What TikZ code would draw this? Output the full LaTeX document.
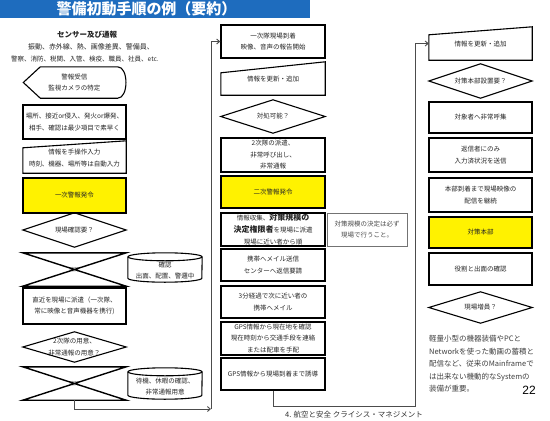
\documentclass[tikz,border=0pt]{standalone}
\usepackage{fontspec}
\newfontfamily\cjk{Noto Sans CJK JP}
\newfontfamily\lsans{Liberation Sans}
\usetikzlibrary{arrows.meta}
\definecolor{titleblue}{RGB}{30,108,190}
\begin{document}
\begin{tikzpicture}[x=1pt,y=-1pt,
  txt/.style={font=\cjk\fontsize{6.5}{11.5}\selectfont, align=center, text=black!85},
  frame/.style={rectangle, txt, inner sep=0pt, minimum width=103pt},
  pbox/.style={frame, draw, line width=1.4pt},
  ybox/.style={pbox, fill=yellow},
  shp/.style={frame},
  outl/.style={line width=1.1pt},
  thk/.style={line width=1.4pt},
  conn/.style={line width=0.9pt, draw=black!70},
  arr/.style={conn, -{Straight Barb[length=3pt,width=5pt]}}
]
\useasboundingbox (0,0) rectangle (550,421);
\fill[white] (0,0) rectangle (550,421);

% title
\fill[titleblue] (0,0) rectangle (310,18);
\node[font=\cjk\bfseries\fontsize{15}{15}\selectfont, text=white, inner sep=0] (title) at (146.5,9) {警備初動手順の例（要約）};

% header texts
\node[font=\cjk\bfseries\fontsize{7.5}{8}\selectfont, text=black!85] (hd1) at (87,35) {センサー及び通報};
\node[txt, font=\cjk\fontsize{7}{8}\selectfont] (hd2) at (91,47) {振動、赤外線、熱、画像差異、警備員、};
\node[txt, font=\cjk\fontsize{6.5}{8}\selectfont] (hd3) at (85,59) {警察、消防、税関、入管、検疫、職員、社員、etc.};

% ---------- left column ----------
\node[shp, minimum width=102pt, minimum height=31pt] (disp) at (74.5,82.5) {警報受信\\監視カメラの特定};
\draw[outl] (disp.west) -- ([xshift=17pt]disp.north west) -- ([xshift=-8pt]disp.north east)
  .. controls ([xshift=3pt]disp.north east) and ([xshift=3pt]disp.south east) .. ([xshift=-8pt]disp.south east)
  -- ([xshift=17pt]disp.south west) -- cycle;

\node[pbox, minimum height=34pt] (b1) at (74.5,122) {場所、接近or侵入、発火or爆発、\\相手、確認は最少項目で素早く};

\node[shp, minimum height=32pt] (mi1) at (74.5,157) {\\[-4pt]情報を手操作入力\\時刻、機器、場所等は自動入力};
\draw[outl] (mi1.south west) -- ([yshift=-7pt]mi1.north west) -- (mi1.north east) -- (mi1.south east) -- cycle;

\node[ybox, minimum height=35pt] (y1) at (74.5,195.5) {一次警報発令};

\node[shp, minimum height=34pt] (d1) at (74.5,230) {現場確認要？};
\draw[outl] (d1.west) -- (d1.north) -- (d1.east) -- (d1.south) -- cycle;

\node[shp, minimum height=33pt, font=\cjk\fontsize{5}{6}\selectfont, text=black!60] (x1) at (74.5,269.5) {確認};
\draw[thk] (x1.north west) -- (x1.north east) -- (x1.south west) -- (x1.south east) -- cycle;

\node[shp, minimum width=74pt, minimum height=29pt] (cy1) at (165,267.5) {};
\node[txt, inner sep=0pt] (cy1t) at ([yshift=-3pt]cy1.center) {確認\\出面、配置、警邏中};
\draw[outl] ([yshift=-4pt]cy1.north) ellipse [x radius=37pt, y radius=4pt];
\draw[outl] ([yshift=-4pt]cy1.north west) -- ([yshift=4pt]cy1.south west)
  arc[start angle=180, end angle=360, x radius=37pt, y radius=4pt] -- ([yshift=-4pt]cy1.north east);

\node[pbox, minimum height=36pt] (b2) at (74.5,306) {直近を現場に派遣（一次隊、\\常に映像と音声機器を携行)};

\node[shp, minimum height=30pt] (d2) at (74.5,347) {2次隊の用意、\\非常通報の用意？};
\draw[outl] (d2.west) -- (d2.north) -- (d2.east) -- (d2.south) -- cycle;

\node[shp, minimum height=33pt, font=\cjk\fontsize{5}{6}\selectfont, text=black!60] (x2) at (74.5,383.5) {確認};
\draw[thk] (x2.north west) -- (x2.north east) -- (x2.south west) -- (x2.south east) -- cycle;

\node[shp, minimum width=74pt, minimum height=31pt] (cy2) at (165,383.5) {};
\node[txt, inner sep=0pt] (cy2t) at ([yshift=-3pt]cy2.center) {待機、休暇の確認、\\非常通報用意};
\draw[outl] ([yshift=-4pt]cy2.north) ellipse [x radius=37pt, y radius=4pt];
\draw[outl] ([yshift=-4pt]cy2.north west) -- ([yshift=4pt]cy2.south west)
  arc[start angle=180, end angle=360, x radius=37pt, y radius=4pt] -- ([yshift=-4pt]cy2.north east);

% ---------- middle column ----------
\node[pbox, minimum width=104pt, minimum height=33pt] (m1) at (273,41.5) {一次隊現場到着\\映像、音声の報告開始};

\node[shp, minimum width=104pt, minimum height=33pt] (m2) at (273,78.5) {\\[-4pt]情報を更新・追加};
\draw[outl] (m2.south west) -- ([yshift=-11pt]m2.north west) -- (m2.north east) -- (m2.south east) -- cycle;

\node[shp, minimum width=104pt, minimum height=33pt] (m3) at (273,116.5) {対処可能？};
\draw[outl] (m3.west) -- (m3.north) -- (m3.east) -- (m3.south) -- cycle;

\node[pbox, minimum width=104pt, minimum height=34pt] (m4) at (273,155) {2次隊の派遣、\\非常呼び出し、\\非常通報};

\node[ybox, minimum width=104pt, minimum height=32pt] (m5) at (273,192) {二次警報発令};

\node[pbox, minimum width=104pt, minimum height=33pt, font=\cjk\fontsize{6.5}{12}\selectfont] (m6) at (273,229.5)
  {情報収集、{\bfseries\fontsize{8}{12}\selectfont 対策規模の}\\{\bfseries\fontsize{8}{12}\selectfont 決定権限者}を現場に派遣\\現場に近い者から順};

\node[frame, draw=black!55, line width=0.8pt, minimum width=80pt, minimum height=33pt, text=black!70] (note) at (367,229.5) {対策規模の決定は必ず\\現場で行うこと。};

\node[pbox, minimum width=104pt, minimum height=32pt] (m7) at (273,265) {携帯へメイル送信\\センターへ返信要請};

\node[pbox, minimum width=104pt, minimum height=32pt] (m8) at (273,302) {3分経過で次に近い者の\\携帯へメイル};

\node[pbox, minimum width=104pt, minimum height=33pt] (m9) at (273,338.5) {GPS情報から現在地を確認\\現在時刻から交通手段を連絡\\または配車を手配};

\node[pbox, minimum width=104pt, minimum height=32pt] (m10) at (273,374) {GPS情報から現場到着まで誘導};

% ---------- right column ----------
\node[shp, minimum height=33pt] (r1) at (480.5,43.5) {\\[-4pt]情報を更新・追加};
\draw[outl] (r1.south west) -- ([yshift=-8pt]r1.north west) -- (r1.north east) -- (r1.south east) -- cycle;

\node[shp, minimum height=34pt] (r2) at (480.5,81) {対策本部設置要？};
\draw[outl] (r2.west) -- (r2.north) -- (r2.east) -- (r2.south) -- cycle;

\node[pbox, minimum height=31pt] (r3) at (480.5,117.5) {対象者へ非常呼集};
\node[pbox, minimum height=34pt] (r4) at (480.5,155) {返信者にのみ\\入力済状況を送信};
\node[pbox, minimum height=34pt] (r5) at (480.5,195) {本部到着まで現場映像の\\配信を継続};
\node[ybox, minimum height=31pt] (r6) at (480.5,232.5) {対策本部};
\node[pbox, minimum height=32pt] (r7) at (480.5,269) {役割と出面の確認};

\node[shp, minimum height=31pt] (r8) at (480.5,307.5) {現場増員？};
\draw[outl] (r8.west) -- (r8.north) -- (r8.east) -- (r8.south) -- cycle;

\node[anchor=north west, font=\cjk\fontsize{7.5}{12.5}\selectfont, align=left, text=black!75, inner sep=0pt] (para) at (429,335)
  {軽量小型の機器装備やPCと\\Networkを使った動画の蓄積と\\配信など、従来のMainframeで\\は出来ない機動的なSystemの\\装備が重要。};

\node[font=\lsans\fontsize{12}{12}\selectfont, anchor=east, inner sep=0pt] (pg) at (536,390) {22};

\node[font=\cjk\fontsize{7.5}{8}\selectfont, anchor=west, text=black!80, inner sep=0pt] (foot) at (285,415) {4. 航空と安全 クライシス・マネジメント};

% ---------- connectors ----------
\coordinate (cL) at (211,409);
\coordinate (cR) at (415,406);
\draw[arr] (x2.south) |- (cL);
\draw[arr] (cL) |- (m1.west);
\draw[arr] (m10.south) |- (cR) |- (r1.west);
\end{tikzpicture}
\end{document}
